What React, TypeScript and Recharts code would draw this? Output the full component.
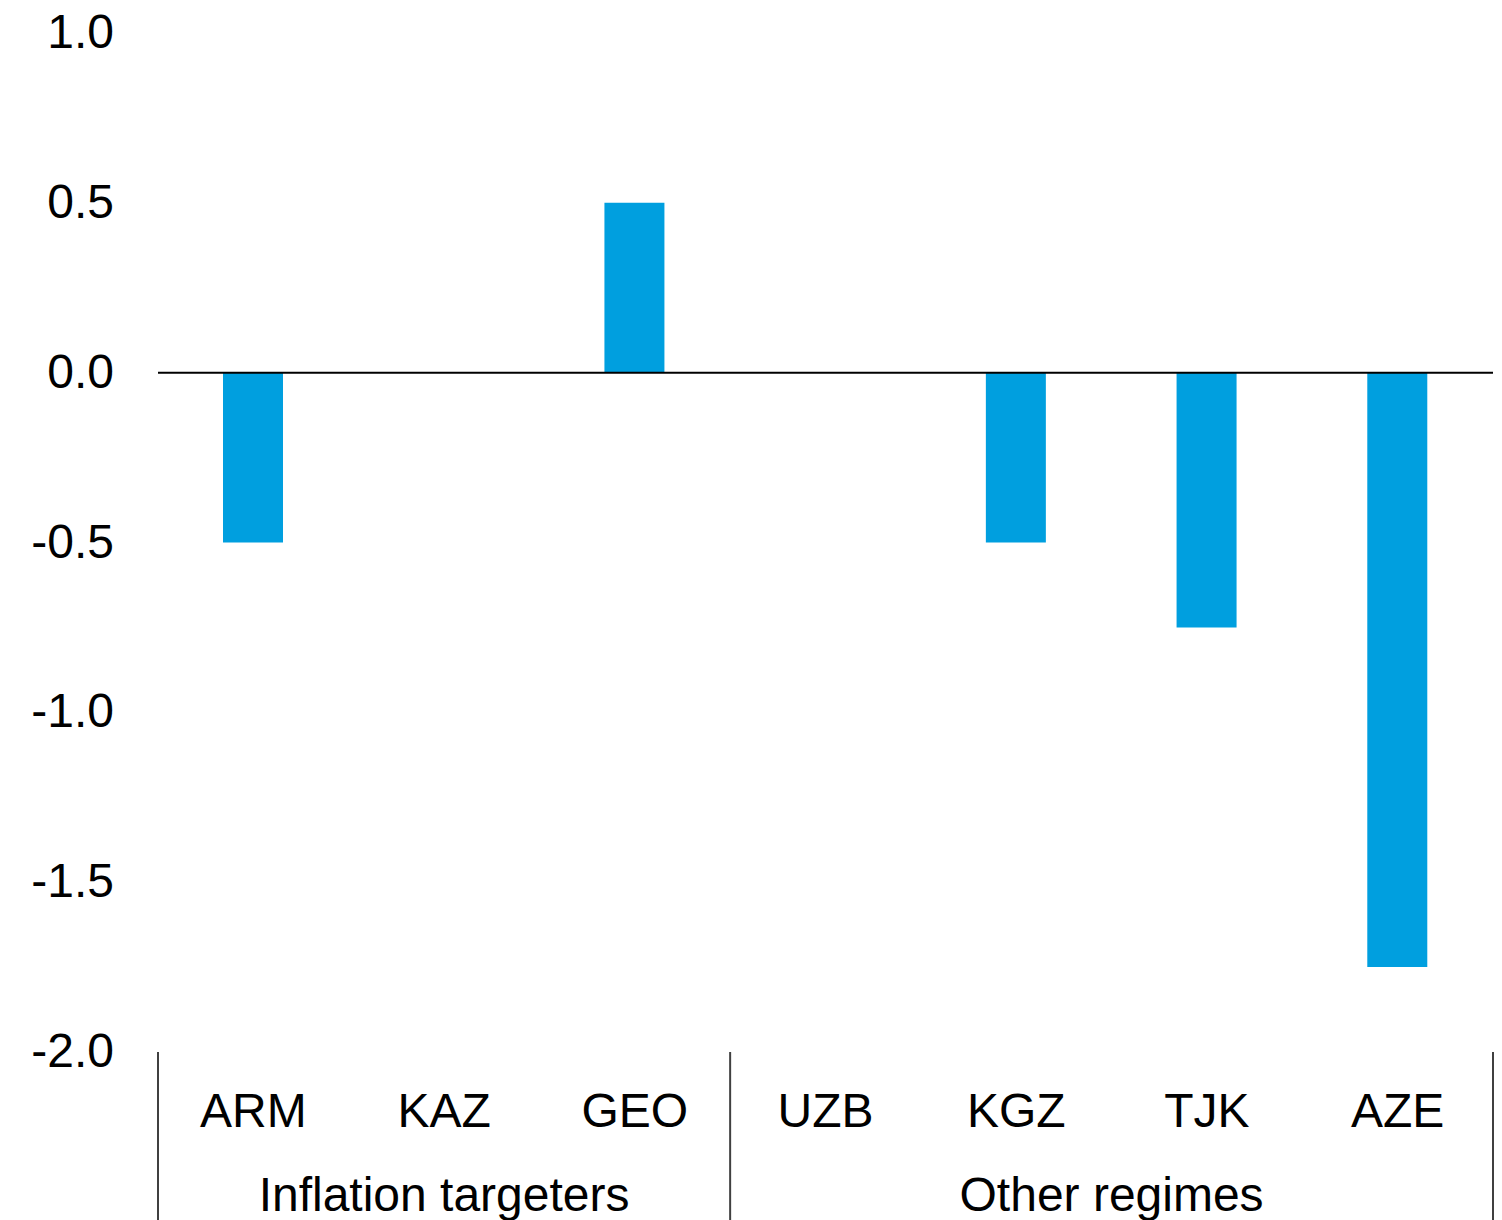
import React from 'react';
import { BarChart, Bar, XAxis, YAxis, ReferenceLine } from 'recharts';

const categories = ['ARM', 'KAZ', 'GEO', 'UZB', 'KGZ', 'TJK', 'AZE'];
const values = [-0.5, 0, 0.5, 0, -0.5, -0.75, -1.75];
const groupNames = ['Inflation targeters', 'Other regimes'];
const groupSizes = [3, 4];
const yTicks = [-2.0, -1.5, -1.0, -0.5, 0.0, 0.5, 1.0];

const data = categories.map((c, i) => ({ name: c, value: values[i] }));

const FONT = '"Liberation Sans", Arial, sans-serif';
const CHART_W = 1502;
const CHART_H = 1220;
const MARGIN = { top: 33, right: 9, bottom: 0, left: 0 };
const Y_AXIS_W = 158;
const X_AXIS_H = 168;

// group start indexes
const groupStarts: number[] = [];
{
  let s = 0;
  for (const n of groupSizes) {
    groupStarts.push(s);
    s += n;
  }
}

function YTick(props: any) {
  const { x, y, payload } = props;
  return (
    <text x={x} y={y} dy={15} textAnchor="end" fontFamily={FONT} fontSize={48} fill="#000">
      {Number(payload.value).toFixed(1)}
    </text>
  );
}

function XTick(props: any) {
  const { x, y, payload, index } = props;
  const axisW = props.width ?? CHART_W - MARGIN.left - MARGIN.right - Y_AXIS_W;
  const step = axisW / categories.length;
  const els: React.ReactNode[] = [];
  els.push(
    <text key="lab" x={x} y={y} dy={75} textAnchor="middle" fontFamily={FONT} fontSize={48} fill="#000">
      {payload.value}
    </text>
  );
  const gi = groupStarts.indexOf(index);
  if (gi >= 0) {
    const n = groupSizes[gi];
    const left = x - step / 2;
    const center = left + (n * step) / 2;
    els.push(
      <line key="sep" x1={left} x2={left} y1={y} y2={y + X_AXIS_H} stroke="#404040" strokeWidth={2} />
    );
    els.push(
      <text key="grp" x={center} y={y} dy={159} textAnchor="middle" fontFamily={FONT} fontSize={48} fill="#000">
        {groupNames[gi]}
      </text>
    );
    if (gi === groupSizes.length - 1) {
      const right = left + n * step;
      els.push(
        <line key="sepR" x1={right} x2={right} y1={y} y2={y + X_AXIS_H} stroke="#404040" strokeWidth={2} />
      );
    }
  }
  return <g>{els}</g>;
}

export default function App() {
  return (
    <div style={{ position: 'absolute', left: 0, top: 0, background: '#fff', width: CHART_W, height: CHART_H }}>
      <BarChart width={CHART_W} height={CHART_H} data={data} margin={MARGIN}>
        <XAxis
          dataKey="name"
          axisLine={false}
          tickLine={false}
          tickSize={0}
          tickMargin={0}
          height={X_AXIS_H}
          interval={0}
          tick={<XTick />}
        />
        <YAxis
          domain={[-2, 1]}
          ticks={yTicks}
          width={Y_AXIS_W}
          axisLine={false}
          tickLine={false}
          tickSize={0}
          tickMargin={44}
          interval={0}
          tick={<YTick />}
        />
        <Bar dataKey="value" fill="#009FDF" barSize={60} isAnimationActive={false} />
        <ReferenceLine y={0} stroke="#000" strokeWidth={2} />
      </BarChart>
    </div>
  );
}
